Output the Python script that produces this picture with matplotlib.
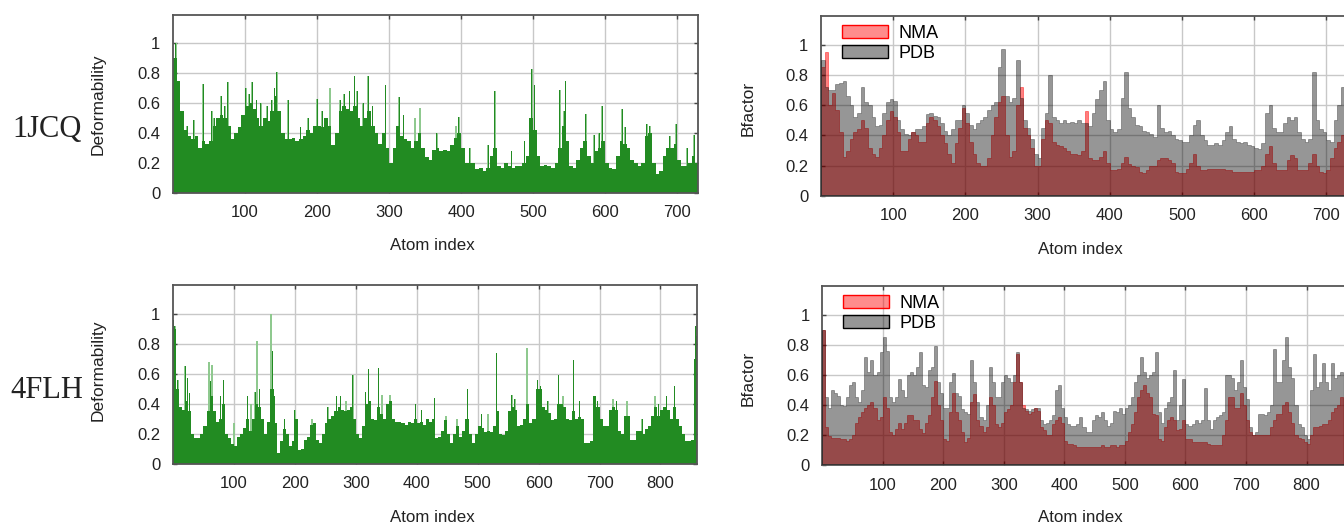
import numpy as np
import matplotlib.pyplot as plt
from matplotlib.patches import Patch

plt.rcParams['font.family'] = ['Liberation Sans', 'DejaVu Sans']

# values are binned every STEP atoms
STEP = 5

# ---- 1JCQ ----
deform_1jcq = [
    0.9, 0.75, 0.55, 0.42, 0.38, 0.36, 0.38, 0.3, 0.35, 0.33,
    0.35, 0.45, 0.5, 0.52, 0.5, 0.45, 0.36, 0.4, 0.44, 0.52,
    0.58, 0.6, 0.56, 0.5, 0.45, 0.5, 0.48, 0.55, 0.65, 0.55,
    0.4, 0.36, 0.36, 0.37, 0.35, 0.36, 0.38, 0.42, 0.4, 0.45,
    0.45, 0.44, 0.5, 0.45, 0.32, 0.4, 0.55, 0.58, 0.56, 0.55,
    0.58, 0.5, 0.45, 0.5, 0.55, 0.45, 0.4, 0.33, 0.4, 0.3,
    0.2, 0.3, 0.45, 0.38, 0.36, 0.35, 0.3, 0.35, 0.4, 0.3,
    0.24, 0.22, 0.29, 0.3, 0.28, 0.29, 0.28, 0.32, 0.37, 0.4,
    0.3, 0.2, 0.2, 0.2, 0.16, 0.17, 0.15, 0.17, 0.25, 0.3,
    0.18, 0.17, 0.2, 0.18, 0.17, 0.18, 0.18, 0.2, 0.25, 0.5,
    0.42, 0.25, 0.18, 0.19, 0.18, 0.17, 0.2, 0.3, 0.45, 0.35,
    0.18, 0.17, 0.22, 0.3, 0.35, 0.25, 0.2, 0.28, 0.3, 0.35,
    0.2, 0.17, 0.16, 0.25, 0.35, 0.33, 0.3, 0.22, 0.2, 0.18,
    0.2, 0.38, 0.4, 0.2, 0.13, 0.15, 0.25, 0.3, 0.3, 0.33,
    0.22, 0.18, 0.18, 0.2, 0.25, 0.2]

spikes_1jcq = [
    (2, 0.87), (4, 1.0), (9, 0.67), (13, 0.55), (20, 0.45), (29, 0.49),
    (42, 0.73), (54, 0.55), (57, 0.5), (67, 0.65), (72, 0.58), (76, 0.74),
    (101, 0.7), (106, 0.66), (110, 0.74), (116, 0.62), (122, 0.6),
    (131, 0.58), (137, 0.62), (141, 0.7), (144, 0.81), (160, 0.62),
    (177, 0.44), (188, 0.5), (200, 0.63), (207, 0.55), (218, 0.7),
    (232, 0.62), (238, 0.66), (245, 0.68), (252, 0.78), (256, 0.68),
    (264, 0.6), (271, 0.78), (277, 0.58), (295, 0.72), (314, 0.64),
    (320, 0.52), (336, 0.5), (343, 0.57), (366, 0.4), (393, 0.45),
    (397, 0.51), (412, 0.3), (438, 0.32), (447, 0.68), (470, 0.28),
    (488, 0.35), (498, 0.83), (502, 0.72), (537, 0.69), (543, 0.55),
    (545, 0.75), (573, 0.53), (585, 0.39), (592, 0.4), (596, 0.58),
    (624, 0.56), (628, 0.44), (658, 0.46), (662, 0.45), (690, 0.38),
    (699, 0.46), (714, 0.3), (724, 0.39)]

nma_1jcq = [
    0.85, 0.95, 0.6, 0.68, 0.57, 0.42, 0.26, 0.3, 0.38, 0.42,
    0.44, 0.5, 0.45, 0.32, 0.28, 0.26, 0.32, 0.4, 0.5, 0.56,
    0.52, 0.42, 0.3, 0.3, 0.38, 0.42, 0.4, 0.36, 0.36, 0.48,
    0.52, 0.5, 0.46, 0.4, 0.35, 0.28, 0.22, 0.35, 0.45, 0.58,
    0.48, 0.36, 0.28, 0.22, 0.2, 0.2, 0.25, 0.4, 0.52, 0.62,
    0.66, 0.4, 0.26, 0.3, 0.6, 0.72, 0.45, 0.4, 0.32, 0.2,
    0.2, 0.38, 0.5, 0.48, 0.36, 0.34, 0.33, 0.32, 0.3, 0.28,
    0.28, 0.27, 0.3, 0.56, 0.25, 0.24, 0.24, 0.26, 0.3, 0.22,
    0.17, 0.17, 0.18, 0.22, 0.26, 0.21, 0.2, 0.19, 0.16, 0.15,
    0.17, 0.2, 0.2, 0.24, 0.25, 0.25, 0.24, 0.22, 0.16, 0.15,
    0.15, 0.18, 0.22, 0.28, 0.2, 0.17, 0.17, 0.18, 0.18, 0.18,
    0.18, 0.18, 0.17, 0.17, 0.16, 0.16, 0.16, 0.16, 0.16, 0.16,
    0.17, 0.17, 0.2, 0.28, 0.33, 0.22, 0.17, 0.17, 0.17, 0.24,
    0.27, 0.25, 0.17, 0.17, 0.17, 0.22, 0.28, 0.2, 0.16, 0.15,
    0.17, 0.25, 0.32, 0.36, 0.4, 0.38]

pdb_1jcq = [
    0.9, 0.72, 0.7, 0.7, 0.74, 0.75, 0.76, 0.66, 0.6, 0.52,
    0.55, 0.72, 0.62, 0.6, 0.52, 0.46, 0.47, 0.55, 0.62, 0.64,
    0.63, 0.5, 0.44, 0.41, 0.4, 0.42, 0.44, 0.44, 0.46, 0.54,
    0.55, 0.53, 0.52, 0.48, 0.43, 0.4, 0.44, 0.5, 0.5, 0.6,
    0.55, 0.47, 0.44, 0.48, 0.5, 0.52, 0.57, 0.6, 0.62, 0.85,
    0.97, 0.66, 0.62, 0.65, 0.9, 0.65, 0.5, 0.45, 0.38, 0.28,
    0.25, 0.45, 0.55, 0.8, 0.52, 0.5, 0.48, 0.5, 0.48, 0.49,
    0.48, 0.5, 0.48, 0.48, 0.46, 0.55, 0.64, 0.7, 0.76, 0.5,
    0.44, 0.42, 0.44, 0.65, 0.82, 0.58, 0.52, 0.47, 0.46, 0.43,
    0.42, 0.41, 0.39, 0.6, 0.45, 0.42, 0.43, 0.4, 0.38, 0.37,
    0.36, 0.36, 0.4, 0.47, 0.5, 0.4, 0.37, 0.34, 0.34, 0.35,
    0.34, 0.37, 0.42, 0.46, 0.38, 0.36, 0.35, 0.36, 0.34, 0.33,
    0.32, 0.31, 0.35, 0.55, 0.6, 0.45, 0.42, 0.42, 0.48, 0.52,
    0.5, 0.52, 0.42, 0.38, 0.36, 0.38, 0.82, 0.5, 0.44, 0.42,
    0.37, 0.36, 0.5, 0.6, 0.72, 0.65]

# ---- 4FLH ----
deform_4flh = [
    0.9, 0.5, 0.38, 0.36, 0.42, 0.35, 0.2, 0.17, 0.17, 0.2,
    0.25, 0.35, 0.45, 0.35, 0.28, 0.3, 0.4, 0.2, 0.17, 0.13,
    0.12, 0.18, 0.2, 0.24, 0.3, 0.22, 0.3, 0.4, 0.38, 0.3,
    0.2, 0.28, 0.5, 0.27, 0.07, 0.15, 0.23, 0.2, 0.12, 0.15,
    0.3, 0.09, 0.1, 0.16, 0.18, 0.26, 0.27, 0.16, 0.14, 0.2,
    0.27, 0.3, 0.32, 0.35, 0.38, 0.36, 0.35, 0.36, 0.38, 0.3,
    0.2, 0.17, 0.25, 0.4, 0.42, 0.3, 0.29, 0.38, 0.33, 0.3,
    0.4, 0.42, 0.3, 0.28, 0.28, 0.27, 0.26, 0.28, 0.27, 0.3,
    0.27, 0.28, 0.26, 0.3, 0.28, 0.3, 0.17, 0.18, 0.22, 0.29,
    0.2, 0.14, 0.2, 0.25, 0.18, 0.22, 0.3, 0.2, 0.14, 0.2,
    0.25, 0.24, 0.21, 0.22, 0.21, 0.25, 0.35, 0.2, 0.19, 0.22,
    0.35, 0.38, 0.36, 0.25, 0.26, 0.3, 0.4, 0.27, 0.3, 0.5,
    0.5, 0.38, 0.36, 0.34, 0.29, 0.3, 0.4, 0.4, 0.38, 0.3,
    0.29, 0.35, 0.3, 0.31, 0.3, 0.14, 0.14, 0.15, 0.45, 0.38,
    0.3, 0.25, 0.25, 0.36, 0.38, 0.36, 0.22, 0.2, 0.32, 0.32,
    0.16, 0.16, 0.22, 0.22, 0.2, 0.23, 0.25, 0.32, 0.38, 0.32,
    0.36, 0.38, 0.36, 0.3, 0.38, 0.3, 0.25, 0.2, 0.15, 0.15,
    0.16, 0.7]

spikes_4flh = [
    (1, 0.96), (3, 0.92), (8, 0.56), (20, 0.65), (24, 0.57), (27, 0.47),
    (59, 0.68), (62, 0.55), (64, 0.66), (78, 0.45), (83, 0.56), (100, 0.27),
    (122, 0.45), (128, 0.4), (135, 0.48), (138, 0.82), (142, 0.5),
    (161, 1.0), (163, 0.75), (166, 0.45), (183, 0.3), (200, 0.36),
    (228, 0.3), (254, 0.38), (268, 0.45), (275, 0.45), (284, 0.42),
    (295, 0.59), (316, 0.48), (321, 0.63), (337, 0.64), (343, 0.46),
    (356, 0.46), (398, 0.4), (408, 0.36), (429, 0.44), (448, 0.32),
    (466, 0.3), (483, 0.5), (506, 0.33), (517, 0.33), (531, 0.74),
    (556, 0.46), (561, 0.43), (581, 0.77), (598, 0.56), (603, 0.52),
    (615, 0.42), (633, 0.59), (640, 0.45), (657, 0.69), (667, 0.42),
    (692, 0.45), (697, 0.42), (722, 0.43), (728, 0.42), (745, 0.42),
    (770, 0.3), (791, 0.45), (797, 0.4), (810, 0.45), (823, 0.52),
    (858, 0.92), (859, 0.85)]

nma_4flh = [
    0.9, 0.25, 0.19, 0.18, 0.18, 0.18, 0.17, 0.17, 0.16, 0.17,
    0.2, 0.28, 0.32, 0.35, 0.38, 0.4, 0.42, 0.38, 0.3, 0.32,
    0.45, 0.38, 0.22, 0.2, 0.24, 0.28, 0.24, 0.28, 0.33, 0.33,
    0.3, 0.3, 0.24, 0.21, 0.28, 0.33, 0.45, 0.56, 0.4, 0.3,
    0.17, 0.16, 0.35, 0.48, 0.35, 0.3, 0.22, 0.15, 0.18, 0.42,
    0.47, 0.3, 0.26, 0.22, 0.25, 0.45, 0.4, 0.27, 0.25, 0.28,
    0.35, 0.37, 0.4, 0.55, 0.74, 0.55, 0.4, 0.36, 0.34, 0.35,
    0.38, 0.36, 0.25, 0.23, 0.2, 0.2, 0.27, 0.3, 0.32, 0.28,
    0.16, 0.14, 0.14, 0.13, 0.12, 0.12, 0.12, 0.12, 0.12, 0.12,
    0.12, 0.12, 0.13, 0.12, 0.12, 0.13, 0.13, 0.12, 0.13, 0.13,
    0.16, 0.22, 0.27, 0.35, 0.45, 0.5, 0.53, 0.48, 0.45, 0.34,
    0.33, 0.17, 0.16, 0.25, 0.3, 0.32, 0.3, 0.23, 0.24, 0.3,
    0.17, 0.17, 0.15, 0.15, 0.15, 0.15, 0.15, 0.14, 0.13, 0.13,
    0.13, 0.13, 0.2, 0.3, 0.45, 0.45, 0.38, 0.38, 0.48, 0.4,
    0.3, 0.22, 0.2, 0.2, 0.2, 0.2, 0.2, 0.2, 0.25, 0.3,
    0.34, 0.34, 0.4, 0.42, 0.35, 0.28, 0.2, 0.18, 0.17, 0.15,
    0.14, 0.2, 0.25, 0.25, 0.26, 0.27, 0.27, 0.3, 0.35, 0.38,
    0.4, 0.45]

pdb_4flh = [
    0.9, 0.45, 0.38, 0.5, 0.48, 0.46, 0.4, 0.39, 0.45, 0.53,
    0.55, 0.45, 0.42, 0.5, 0.72, 0.62, 0.7, 0.6, 0.62, 0.75,
    0.85, 0.76, 0.45, 0.42, 0.45, 0.57, 0.5, 0.45, 0.6, 0.62,
    0.6, 0.65, 0.75, 0.53, 0.52, 0.63, 0.65, 0.79, 0.55, 0.48,
    0.38, 0.38, 0.55, 0.61, 0.48, 0.46, 0.37, 0.35, 0.34, 0.7,
    0.55, 0.42, 0.32, 0.3, 0.4, 0.65, 0.55, 0.45, 0.45, 0.55,
    0.6, 0.58, 0.55, 0.6, 0.75, 0.55, 0.38, 0.37, 0.36, 0.37,
    0.38, 0.38, 0.3, 0.27, 0.28, 0.3, 0.33, 0.5, 0.53, 0.38,
    0.32, 0.27, 0.26, 0.26, 0.27, 0.32, 0.25, 0.22, 0.22, 0.3,
    0.33, 0.32, 0.35, 0.3, 0.26, 0.28, 0.36, 0.35, 0.38, 0.34,
    0.38, 0.4, 0.45, 0.55, 0.6, 0.72, 0.62, 0.58, 0.6, 0.62,
    0.75, 0.35, 0.28, 0.38, 0.42, 0.45, 0.63, 0.3, 0.4, 0.57,
    0.27, 0.26, 0.27, 0.3, 0.28, 0.3, 0.51, 0.3, 0.24, 0.3,
    0.32, 0.33, 0.35, 0.6, 0.6, 0.58, 0.5, 0.55, 0.7, 0.52,
    0.44, 0.25, 0.2, 0.22, 0.34, 0.34, 0.33, 0.35, 0.4, 0.77,
    0.55, 0.55, 0.7, 0.85, 0.65, 0.58, 0.4, 0.27, 0.25, 0.2,
    0.17, 0.5, 0.74, 0.52, 0.55, 0.68, 0.55, 0.5, 0.68, 0.58,
    0.6, 0.62]

GREEN = '#228b22'
LIGHT_GREEN = '#8fc98f'
W, H = 1344, 529

fig = plt.figure(figsize=(W / 100, H / 100), dpi=100)


def px_axes(left, top, right, bottom):
    return fig.add_axes([left / W, 1 - bottom / H, (right - left) / W, (bottom - top) / H])


def style(ax, xmax):
    ax.set_xlim(0, xmax)
    ax.set_ylim(0, 1.19)
    ax.set_xticks(np.arange(100, xmax, 100))
    ax.set_yticks([0, 0.2, 0.4, 0.6, 0.8, 1])
    ax.set_yticklabels(['0', '0.2', '0.4', '0.6', '0.8', '1'])
    ax.grid(True, color='#c8c8c8', lw=1)
    ax.set_axisbelow(True)
    ax.tick_params(direction='in', length=3, width=1, top=True, right=True,
                   labelsize=12, pad=9, color='#444444', labelcolor='#222222')
    for s in ax.spines.values():
        s.set_color('#555555')
        s.set_linewidth(1.3)


def green_panel(ax, base, spikes, xmax):
    edges = np.arange(len(base) + 1) * STEP
    pos = [p for p, v in spikes]
    val = [v for p, v in spikes]
    # light fringe first, then the body, then the spike cores
    ax.bar(pos, val, width=2.6, color=LIGHT_GREEN, lw=0, zorder=1.5)
    ax.stairs(base, edges, fill=True, color=GREEN, lw=0, zorder=2)
    ax.bar(pos, val, width=1.3, color=GREEN, lw=0, zorder=2.5)
    style(ax, xmax)


def bfactor_panel(ax, nma, pdb, xmax):
    edges = np.arange(len(nma) + 1) * STEP
    ax.stairs(nma, edges, fill=True, facecolor=(1, 0, 0, 0.5),
              edgecolor=(1, 0, 0, 0.5), lw=0.6, zorder=2)
    ax.stairs(pdb, edges, fill=True, facecolor=(0, 0, 0, 0.41),
              edgecolor=(0, 0, 0, 0.35), lw=0.6, zorder=3)
    style(ax, xmax)
    handles = [Patch(facecolor=(1, 0, 0, 0.45), edgecolor='red', lw=1),
               Patch(facecolor=(0, 0, 0, 0.41), edgecolor='black', lw=1)]
    ax.legend(handles, ['NMA', 'PDB'], loc='upper left', bbox_to_anchor=(0.02, 1.01),
              frameon=False, fontsize=13, handlelength=2.5, handleheight=0.75,
              labelspacing=0.15, handletextpad=0.6, borderaxespad=0.2)


ax1 = px_axes(173, 15, 698, 193)
green_panel(ax1, deform_1jcq, spikes_1jcq, 729)

ax2 = px_axes(173, 285, 697, 464)
green_panel(ax2, deform_4flh, spikes_4flh, 860)

ax3 = px_axes(821, 16, 1348, 196)
bfactor_panel(ax3, nma_1jcq, pdb_1jcq, 730)

ax4 = px_axes(822, 286, 1349, 465)
bfactor_panel(ax4, nma_4flh, pdb_4flh, 870)


def label(x, y, s, **kw):
    fig.text(x / W, 1 - y / H, s, ha='center', va='center', color='#222222', **kw)


label(47, 130, '1JCQ', family='Liberation Serif', fontsize=22)
label(47, 390, '4FLH', family='Liberation Serif', fontsize=22)
label(98, 104, 'Deformability', rotation=90, fontsize=12.5)
label(98, 370, 'Deformability', rotation=90, fontsize=12.5)
label(748, 108, 'Bfactor', rotation=90, fontsize=12.5)
label(748, 378, 'Bfactor', rotation=90, fontsize=12.5)
label(432, 246, 'Atom index', fontsize=12.2)
label(432, 517, 'Atom index', fontsize=12.2)
label(1080, 249, 'Atom index', fontsize=12.2)
label(1080, 518, 'Atom index', fontsize=12.2)

fig.savefig('out.png', dpi=100)
